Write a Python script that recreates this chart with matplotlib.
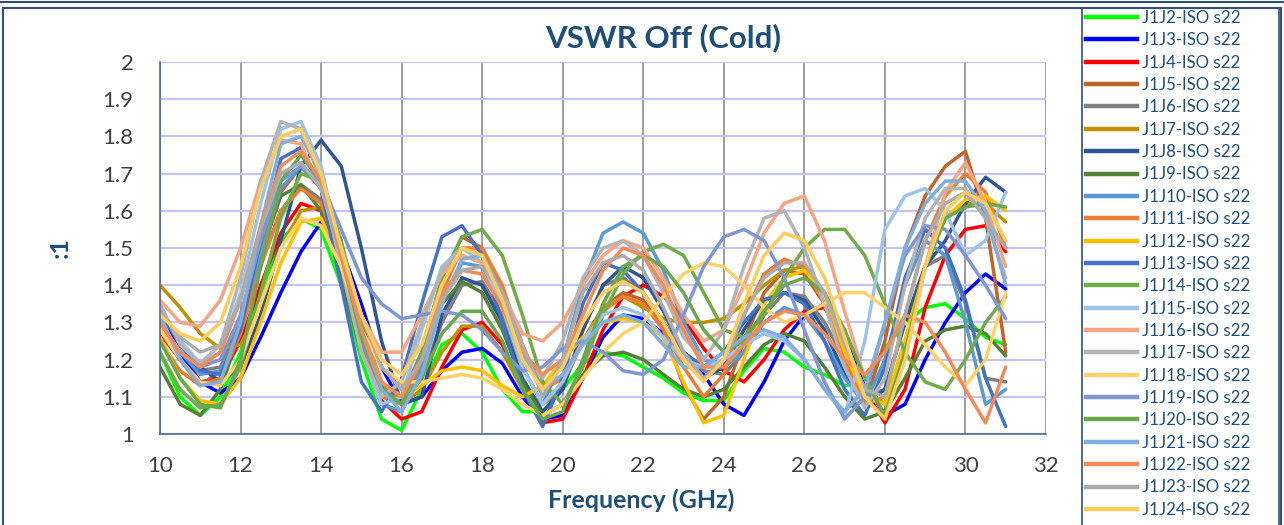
import matplotlib.pyplot as plt
from matplotlib.patches import Rectangle
from matplotlib.lines import Line2D

# --- frequency points (GHz) ---
freq = [10.0, 10.5, 11.0, 11.5, 12.0, 12.5, 13.0, 13.5, 14.0, 14.5, 15.0,
        15.5, 16.0, 16.5, 17.0, 17.5, 18.0, 18.5, 19.0, 19.5, 20.0, 20.5,
        21.0, 21.5, 22.0, 22.5, 23.0, 23.5, 24.0, 24.5, 25.0, 25.5, 26.0,
        26.5, 27.0, 27.5, 28.0, 28.5, 29.0, 29.5, 30.0, 30.5, 31.0]

# --- VSWR values ---
j1j2 = [1.22, 1.10, 1.05, 1.10, 1.22, 1.38, 1.52, 1.58, 1.55, 1.40, 1.20,
        1.04, 1.01, 1.12, 1.24, 1.27, 1.22, 1.12, 1.06, 1.06, 1.12, 1.19,
        1.22, 1.21, 1.18, 1.15, 1.11, 1.09, 1.09, 1.17, 1.23, 1.22, 1.18,
        1.16, 1.13, 1.14, 1.23, 1.30, 1.34, 1.35, 1.31, 1.26, 1.24]
j1j3 = [1.33, 1.22, 1.14, 1.11, 1.15, 1.26, 1.38, 1.49, 1.57, 1.50, 1.35,
        1.18, 1.08, 1.10, 1.17, 1.22, 1.23, 1.19, 1.10, 1.04, 1.05, 1.15,
        1.26, 1.32, 1.31, 1.27, 1.22, 1.16, 1.08, 1.05, 1.14, 1.25, 1.32,
        1.35, 1.26, 1.14, 1.05, 1.08, 1.20, 1.30, 1.38, 1.43, 1.39]
j1j4 = [1.27, 1.20, 1.14, 1.15, 1.25, 1.40, 1.54, 1.62, 1.60, 1.45, 1.24,
        1.09, 1.04, 1.06, 1.18, 1.28, 1.30, 1.24, 1.12, 1.03, 1.04, 1.15,
        1.28, 1.37, 1.40, 1.37, 1.31, 1.23, 1.17, 1.14, 1.20, 1.28, 1.33,
        1.34, 1.25, 1.12, 1.03, 1.12, 1.34, 1.48, 1.55, 1.56, 1.49]
j1j5 = [1.28, 1.20, 1.13, 1.17, 1.32, 1.50, 1.65, 1.72, 1.66, 1.48, 1.26,
        1.12, 1.10, 1.22, 1.42, 1.53, 1.50, 1.38, 1.22, 1.12, 1.15, 1.25,
        1.34, 1.38, 1.36, 1.28, 1.13, 1.04, 1.10, 1.25, 1.38, 1.44, 1.43,
        1.35, 1.20, 1.08, 1.25, 1.50, 1.64, 1.72, 1.76, 1.58, 1.22]
j1j6 = [1.30, 1.22, 1.17, 1.18, 1.30, 1.46, 1.60, 1.67, 1.63, 1.48, 1.28,
        1.13, 1.08, 1.15, 1.30, 1.40, 1.41, 1.32, 1.18, 1.08, 1.12, 1.28,
        1.40, 1.42, 1.38, 1.30, 1.22, 1.17, 1.16, 1.22, 1.32, 1.38, 1.37,
        1.30, 1.20, 1.10, 1.12, 1.30, 1.45, 1.48, 1.35, 1.15, 1.14]
j1j7 = [1.40, 1.34, 1.27, 1.23, 1.24, 1.35, 1.50, 1.60, 1.61, 1.50, 1.30,
        1.14, 1.08, 1.12, 1.22, 1.29, 1.29, 1.22, 1.12, 1.08, 1.13, 1.25,
        1.34, 1.37, 1.34, 1.31, 1.30, 1.30, 1.31, 1.35, 1.40, 1.44, 1.45,
        1.38, 1.25, 1.12, 1.08, 1.25, 1.45, 1.58, 1.62, 1.62, 1.57]
j1j8 = [1.32, 1.25, 1.18, 1.14, 1.18, 1.32, 1.52, 1.72, 1.79, 1.72, 1.50,
        1.25, 1.08, 1.10, 1.32, 1.42, 1.40, 1.30, 1.15, 1.06, 1.12, 1.28,
        1.40, 1.45, 1.42, 1.33, 1.22, 1.15, 1.18, 1.28, 1.36, 1.38, 1.36,
        1.28, 1.16, 1.08, 1.12, 1.30, 1.45, 1.52, 1.62, 1.69, 1.65]
j1j9 = [1.18, 1.08, 1.05, 1.12, 1.28, 1.48, 1.64, 1.67, 1.60, 1.42, 1.22,
        1.08, 1.06, 1.18, 1.35, 1.41, 1.38, 1.28, 1.14, 1.05, 1.08, 1.16,
        1.21, 1.22, 1.20, 1.16, 1.12, 1.10, 1.12, 1.18, 1.24, 1.27, 1.25,
        1.18, 1.10, 1.04, 1.06, 1.15, 1.25, 1.28, 1.29, 1.27, 1.21]
j1j10 = [1.30, 1.22, 1.16, 1.17, 1.28, 1.48, 1.66, 1.72, 1.66, 1.48, 1.25,
         1.08, 1.06, 1.18, 1.36, 1.46, 1.45, 1.35, 1.18, 1.08, 1.20, 1.40,
         1.54, 1.57, 1.54, 1.44, 1.30, 1.20, 1.18, 1.22, 1.30, 1.34, 1.32,
         1.25, 1.15, 1.08, 1.20, 1.40, 1.52, 1.48, 1.30, 1.08, 1.12]
j1j11 = [1.25, 1.17, 1.13, 1.15, 1.27, 1.45, 1.60, 1.66, 1.62, 1.47, 1.26,
         1.10, 1.08, 1.20, 1.38, 1.50, 1.50, 1.40, 1.24, 1.12, 1.15, 1.25,
         1.33, 1.37, 1.35, 1.28, 1.18, 1.10, 1.16, 1.32, 1.43, 1.47, 1.45,
         1.35, 1.20, 1.08, 1.10, 1.32, 1.52, 1.64, 1.70, 1.65, 1.50]
j1j12 = [1.26, 1.15, 1.09, 1.08, 1.15, 1.30, 1.46, 1.57, 1.58, 1.46, 1.28,
         1.14, 1.10, 1.13, 1.17, 1.18, 1.17, 1.13, 1.10, 1.13, 1.20, 1.26,
         1.30, 1.31, 1.30, 1.26, 1.14, 1.03, 1.05, 1.20, 1.35, 1.42, 1.44,
         1.38, 1.22, 1.10, 1.08, 1.25, 1.45, 1.58, 1.63, 1.64, 1.60]
j1j13 = [1.33, 1.24, 1.17, 1.16, 1.28, 1.52, 1.74, 1.77, 1.66, 1.40, 1.14,
         1.06, 1.15, 1.35, 1.53, 1.56, 1.48, 1.30, 1.12, 1.02, 1.15, 1.35,
         1.46, 1.44, 1.38, 1.30, 1.22, 1.18, 1.22, 1.30, 1.36, 1.38, 1.35,
         1.25, 1.12, 1.05, 1.18, 1.42, 1.55, 1.50, 1.36, 1.15, 1.02]
j1j14 = [1.22, 1.12, 1.07, 1.08, 1.18, 1.38, 1.58, 1.70, 1.68, 1.52, 1.30,
         1.12, 1.08, 1.22, 1.42, 1.53, 1.55, 1.48, 1.32, 1.14, 1.08, 1.18,
         1.32, 1.43, 1.49, 1.51, 1.48, 1.38, 1.28, 1.26, 1.32, 1.42, 1.50,
         1.55, 1.55, 1.48, 1.35, 1.22, 1.14, 1.12, 1.20, 1.30, 1.37]
j1j15 = [1.34, 1.25, 1.19, 1.22, 1.38, 1.62, 1.82, 1.84, 1.72, 1.48, 1.22,
         1.08, 1.10, 1.28, 1.45, 1.50, 1.46, 1.34, 1.18, 1.08, 1.14, 1.25,
         1.32, 1.34, 1.32, 1.26, 1.20, 1.18, 1.20, 1.24, 1.27, 1.25, 1.20,
         1.12, 1.05, 1.25, 1.55, 1.64, 1.66, 1.60, 1.48, 1.52, 1.65]
j1j16 = [1.36, 1.30, 1.29, 1.36, 1.50, 1.68, 1.79, 1.78, 1.66, 1.48, 1.32,
         1.22, 1.22, 1.32, 1.43, 1.48, 1.46, 1.38, 1.27, 1.25, 1.30, 1.40,
         1.48, 1.52, 1.50, 1.42, 1.32, 1.25, 1.28, 1.40, 1.54, 1.62, 1.64,
         1.52, 1.33, 1.15, 1.05, 1.20, 1.45, 1.65, 1.73, 1.62, 1.45]
j1j17 = [1.35, 1.24, 1.19, 1.24, 1.42, 1.68, 1.84, 1.82, 1.68, 1.45, 1.22,
         1.10, 1.14, 1.30, 1.44, 1.50, 1.48, 1.38, 1.22, 1.15, 1.25, 1.42,
         1.50, 1.52, 1.48, 1.38, 1.26, 1.20, 1.28, 1.45, 1.58, 1.60, 1.50,
         1.35, 1.18, 1.07, 1.15, 1.40, 1.58, 1.66, 1.66, 1.58, 1.42]
j1j18 = [1.28, 1.20, 1.14, 1.13, 1.20, 1.35, 1.50, 1.58, 1.56, 1.45, 1.28,
         1.18, 1.14, 1.14, 1.15, 1.16, 1.15, 1.12, 1.08, 1.05, 1.08, 1.15,
         1.22, 1.27, 1.30, 1.37, 1.43, 1.46, 1.45, 1.40, 1.34, 1.30, 1.32,
         1.35, 1.38, 1.38, 1.34, 1.30, 1.24, 1.18, 1.13, 1.20, 1.38]
j1j19 = [1.30, 1.22, 1.18, 1.20, 1.32, 1.52, 1.68, 1.72, 1.68, 1.55, 1.42,
         1.35, 1.31, 1.32, 1.33, 1.32, 1.28, 1.22, 1.17, 1.18, 1.23, 1.25,
         1.22, 1.17, 1.16, 1.20, 1.32, 1.45, 1.53, 1.55, 1.52, 1.42, 1.28,
         1.14, 1.04, 1.10, 1.30, 1.48, 1.56, 1.55, 1.48, 1.40, 1.31]
j1j20 = [1.25, 1.15, 1.08, 1.07, 1.20, 1.45, 1.68, 1.75, 1.68, 1.48, 1.26,
         1.12, 1.08, 1.15, 1.27, 1.33, 1.33, 1.25, 1.12, 1.04, 1.06, 1.20,
         1.35, 1.45, 1.48, 1.45, 1.38, 1.28, 1.22, 1.25, 1.33, 1.40, 1.42,
         1.38, 1.28, 1.15, 1.05, 1.22, 1.45, 1.58, 1.61, 1.62, 1.61]
j1j21 = [1.32, 1.20, 1.13, 1.14, 1.30, 1.56, 1.78, 1.80, 1.70, 1.50, 1.28,
         1.12, 1.06, 1.16, 1.35, 1.47, 1.48, 1.38, 1.22, 1.12, 1.16, 1.24,
         1.30, 1.32, 1.30, 1.24, 1.18, 1.18, 1.22, 1.26, 1.28, 1.26, 1.20,
         1.12, 1.06, 1.12, 1.30, 1.50, 1.62, 1.68, 1.68, 1.60, 1.40]
j1j22 = [1.30, 1.22, 1.18, 1.22, 1.36, 1.56, 1.72, 1.76, 1.68, 1.48, 1.28,
         1.14, 1.10, 1.20, 1.38, 1.44, 1.43, 1.34, 1.22, 1.16, 1.20, 1.32,
         1.44, 1.50, 1.48, 1.40, 1.28, 1.18, 1.18, 1.24, 1.30, 1.33, 1.32,
         1.27, 1.20, 1.16, 1.22, 1.32, 1.30, 1.22, 1.12, 1.03, 1.18]
j1j23 = [1.33, 1.26, 1.22, 1.24, 1.36, 1.55, 1.70, 1.73, 1.66, 1.50, 1.32,
         1.18, 1.12, 1.20, 1.36, 1.44, 1.45, 1.38, 1.24, 1.10, 1.20, 1.38,
         1.46, 1.48, 1.44, 1.34, 1.22, 1.15, 1.20, 1.32, 1.42, 1.46, 1.46,
         1.38, 1.24, 1.12, 1.10, 1.32, 1.52, 1.62, 1.65, 1.58, 1.50]
j1j24 = [1.32, 1.27, 1.25, 1.30, 1.45, 1.66, 1.80, 1.82, 1.70, 1.50, 1.32,
         1.20, 1.16, 1.24, 1.40, 1.50, 1.48, 1.36, 1.20, 1.12, 1.18, 1.30,
         1.38, 1.41, 1.38, 1.30, 1.20, 1.14, 1.20, 1.35, 1.48, 1.54, 1.52,
         1.42, 1.26, 1.10, 1.04, 1.20, 1.45, 1.60, 1.65, 1.62, 1.52]

series_names = ['J1J2-ISO s22', 'J1J3-ISO s22', 'J1J4-ISO s22', 'J1J5-ISO s22',
                'J1J6-ISO s22', 'J1J7-ISO s22', 'J1J8-ISO s22', 'J1J9-ISO s22',
                'J1J10-ISO s22', 'J1J11-ISO s22', 'J1J12-ISO s22', 'J1J13-ISO s22',
                'J1J14-ISO s22', 'J1J15-ISO s22', 'J1J16-ISO s22', 'J1J17-ISO s22',
                'J1J18-ISO s22', 'J1J19-ISO s22', 'J1J20-ISO s22', 'J1J21-ISO s22',
                'J1J22-ISO s22', 'J1J23-ISO s22', 'J1J24-ISO s22']
series_values = [j1j2, j1j3, j1j4, j1j5, j1j6, j1j7, j1j8, j1j9, j1j10, j1j11,
                 j1j12, j1j13, j1j14, j1j15, j1j16, j1j17, j1j18, j1j19, j1j20,
                 j1j21, j1j22, j1j23, j1j24]
series_colors = ['#00FF00', '#0000FF', '#FF0000', '#C0652C', '#808080', '#C09000',
                 '#2F5597', '#548235', '#5B9BD5', '#ED7D31', '#FFC000', '#4472C4',
                 '#70AD47', '#9DC3E6', '#F4A582', '#B4B4B4', '#FFD166', '#7F96D4',
                 '#6AA84F', '#82AEDD', '#F08C5A', '#ACACAC', '#FFCC5C']

x_ticks = [10, 12, 14, 16, 18, 20, 22, 24, 26, 28, 30, 32]
y_ticks = [1, 1.1, 1.2, 1.3, 1.4, 1.5, 1.6, 1.7, 1.8, 1.9, 2]
y_tick_labels = ['1', '1.1', '1.2', '1.3', '1.4', '1.5', '1.6', '1.7', '1.8', '1.9', '2']

navy = '#1F4E79'
W, H = 1284, 525

plt.rcParams['font.family'] = ['Lato', 'DejaVu Sans']

fig = plt.figure(figsize=(W / 100, H / 100), dpi=100)
ax = fig.add_axes([160 / W, 1 - 434 / H, (1046 - 160) / W, (434 - 62) / H])

# grid lines
for x in x_ticks:
    ax.axvline(x, color='#8C8C8C', lw=1.2, zorder=0)
for y in y_ticks:
    ax.axhline(y, color='#C4C4F2', lw=1.6, zorder=0)

for vals, col in zip(series_values, series_colors):
    ax.plot(freq, vals, color=col, lw=2.5, solid_capstyle='round',
            solid_joinstyle='round')

ax.set_xlim(10, 32)
ax.set_ylim(1, 2)
ax.set_xticks(x_ticks)
ax.set_yticks(y_ticks)
ax.set_yticklabels(y_tick_labels)
ax.tick_params(length=0, labelsize=16, colors='#404040')
ax.tick_params(axis='x', pad=16)
ax.tick_params(axis='y', pad=19)
for s in ['top', 'right']:
    ax.spines[s].set_visible(False)
for s in ['left', 'bottom']:
    ax.spines[s].set_color('#4A6B9A')
    ax.spines[s].set_linewidth(1.2)

fig.text(663 / W, 1 - 38 / H, 'VSWR Off (Cold)', ha='center', va='center',
         fontsize=22.5, fontweight='bold', color=navy)
fig.text(641 / W, 1 - 500 / H, 'Frequency (GHz)', ha='center', va='center',
         fontsize=18, fontweight='bold', color=navy)
fig.text(60 / W, 1 - 248 / H, ':1', ha='center', va='center', rotation=90,
         fontsize=18, fontweight='bold', color=navy)

# legend
handles = [Line2D([0], [0], color=c, lw=3.2) for c in series_colors]
leg = fig.legend(handles, series_names, loc='upper left',
                 bbox_to_anchor=(1086 / W, 1 - 10 / H), frameon=False,
                 fontsize=12.2, handlelength=3.0, handletextpad=0.3,
                 labelspacing=0.375, borderpad=0, borderaxespad=0)
for t in leg.get_texts():
    t.set_color(navy)

# frames around chart and legend
fig.add_artist(Rectangle((3 / W, -0.05), 1278 / W, 1.05 - 8 / H, transform=fig.transFigure,
                         fill=False, edgecolor='#2F4F7F', lw=1.5))
fig.add_artist(Rectangle((1082 / W, -0.05), 197 / W, 1.05 - 8 / H, transform=fig.transFigure,
                         fill=False, edgecolor='#2F4F7F', lw=1.2))
fig.add_artist(Line2D([0, 1], [1 - 2 / H, 1 - 2 / H], transform=fig.transFigure,
                      color='#2F4F7F', lw=1.5))

fig.savefig('out.png', dpi=100)
